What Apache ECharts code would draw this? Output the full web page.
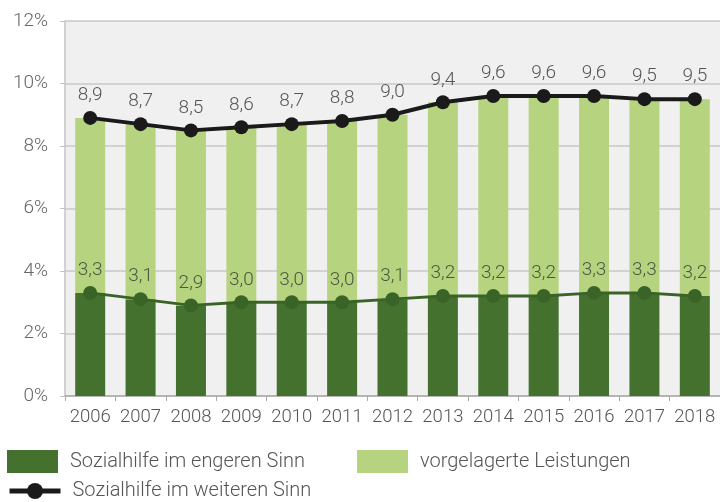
<!DOCTYPE html>
<html><head><meta charset="utf-8">
<script src="https://cdn.jsdelivr.net/npm/echarts@6/dist/echarts.min.js"></script>
<style>html,body{margin:0;padding:0;background:#fff}#c{width:720px;height:502px}</style>
</head><body><div id="c"></div>
<script>
const years = ['2006','2007','2008','2009','2010','2011','2012','2013','2014','2015','2016','2017','2018'];
const engeren = [3.3,3.1,2.9,3.0,3.0,3.0,3.1,3.2,3.2,3.2,3.3,3.3,3.2];
const vorgelagert = [5.6,5.6,5.6,5.6,5.7,5.8,5.9,6.2,6.4,6.4,6.3,6.2,6.3];
const weiteren = [8.9,8.7,8.5,8.6,8.7,8.8,9.0,9.4,9.6,9.6,9.6,9.5,9.5];
const yTicks = ['0%','2%','4%','6%','8%','10%','12%'];

const FONT = 'Roboto';
const LW = 300;
const fmt = v => v.toFixed(1).replace('.', ',');
const legText = {color: '#555', fontSize: 20, fontFamily: FONT, fontWeight: LW, padding: [0,0,0,7]};
const chart = echarts.init(document.getElementById('c'));
chart.setOption({
  animation: false,
  textStyle: {fontFamily: FONT},
  grid: {left: 65, top: 21, width: 658, height: 375, show: true, backgroundColor: '#f0f0f0', borderWidth: 0},
  xAxis: {
    type: 'category', data: years,
    axisLine: {lineStyle: {color: '#aaaaaa', width: 1.5}},
    axisTick: {show: true, length: 5, lineStyle: {color: '#aaaaaa'}},
    axisLabel: {color: '#555', fontSize: 18.5, fontFamily: FONT, fontWeight: LW, margin: 12, interval: 0, hideOverlap: false}
  },
  yAxis: {
    type: 'value', min: 0, max: 12, interval: 2,
    axisLine: {show: true, lineStyle: {color: '#c4c4c4', width: 1.5}},
    axisTick: {show: true, length: 5, lineStyle: {color: '#c4c4c4'}},
    splitLine: {lineStyle: {color: '#c8c8c8', width: 1.5}},
    axisLabel: {color: '#666', fontSize: 19, fontFamily: FONT, fontWeight: LW, margin: 17,
      formatter: v => yTicks[Math.round(v / 2)]}
  },
  legend: [
    {left: 7, top: 450, itemWidth: 51, itemHeight: 23, icon: 'rect', textStyle: legText, padding: 0,
     data: ['Sozialhilfe im engeren Sinn']},
    {left: 357, top: 450, itemWidth: 51, itemHeight: 23, icon: 'rect', textStyle: legText, padding: 0,
     data: ['vorgelagerte Leistungen']},
    {left: 7, top: 481, itemWidth: 51, itemHeight: 20, textStyle: legText, padding: 0,
     lineStyle: {width: 5, color: '#1a1a1a'},
     data: ['Sozialhilfe im weiteren Sinn']}
  ],
  series: [
    {name: 'Sozialhilfe im engeren Sinn', type: 'bar', stack: 's', data: engeren, barWidth: 30,
     itemStyle: {color: '#44712e'}},
    {name: 'vorgelagerte Leistungen', type: 'bar', stack: 's', data: vorgelagert, barWidth: 30,
     itemStyle: {color: '#b6d47f'}},
    {name: 'engeren_line', type: 'line', data: engeren, symbol: 'circle', symbolSize: 14,
     lineStyle: {color: '#3a6427', width: 3}, itemStyle: {color: '#3a6427'},
     label: {show: true, position: 'top', distance: 6, color: '#4a5840', fontSize: 19, fontFamily: FONT, fontWeight: LW,
       formatter: p => fmt(p.value)}, z: 5},
    {name: 'Sozialhilfe im weiteren Sinn', type: 'line', data: weiteren, symbol: 'circle', symbolSize: 14,
     lineStyle: {color: '#1a1a1a', width: 4}, itemStyle: {color: '#1a1a1a'},
     label: {show: true, position: 'top', distance: 6, color: '#555', fontSize: 19, fontFamily: FONT, fontWeight: LW,
       formatter: p => fmt(p.value)}, z: 6}
  ]
});
</script></body></html>
